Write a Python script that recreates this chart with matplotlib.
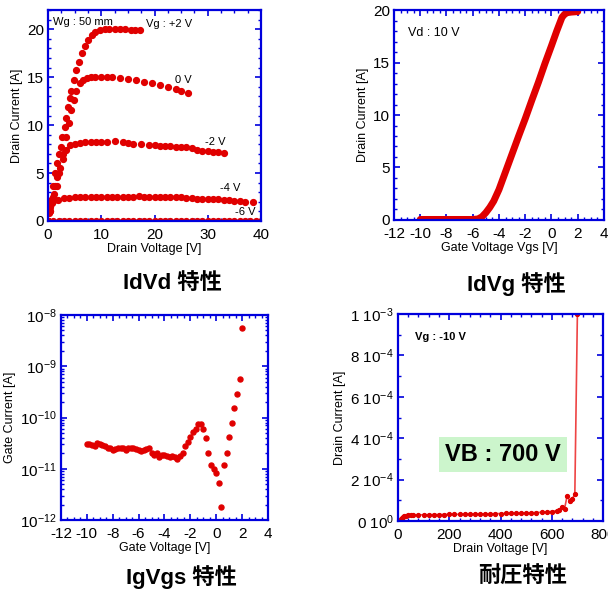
import numpy as np
import matplotlib
matplotlib.use("Agg")
import matplotlib.pyplot as plt
from matplotlib.ticker import MultipleLocator, FixedLocator, FixedFormatter, LogLocator, NullFormatter

plt.rcParams['font.family'] = ['Liberation Sans', 'Noto Sans CJK JP']
plt.rcParams['mathtext.fontset'] = 'custom'
plt.rcParams['mathtext.rm'] = 'Liberation Sans'
plt.rcParams['mathtext.it'] = 'Liberation Sans:italic'
plt.rcParams['mathtext.bf'] = 'Liberation Sans:bold'
plt.rcParams['axes.unicode_minus'] = False

RED = '#e00000'
BLUE = '#0000dd'

# ---- IdVd data (Vd [V], Id [A]) per gate voltage
vd_p2 = [0, 0.3, 0.63, 0.94, 1.25, 1.7, 2.1, 2.4, 2.7, 3.1, 3.4, 3.8, 4.1, 4.4, 4.8, 5.3,
         5.8, 6.4, 6.9, 7.5, 8.2, 8.8, 9.7, 10.7, 11.5, 12.5, 13.5, 14.5, 15.5, 16.3, 17.2]
id_p2 = [0, 1.0, 2.2, 3.6, 5.0, 6.0, 7.0, 7.7, 8.8, 9.8, 10.7, 11.9, 12.8, 13.6, 14.7, 15.7,
         16.6, 17.5, 18.2, 18.9, 19.4, 19.7, 19.9, 20.0, 20.0, 20.0, 20.0, 20.0, 19.95, 19.95, 19.9]

vd_0 = [0, 0.4, 0.8, 1.2, 1.6, 2.1, 2.8, 3.4, 3.9, 4.4, 4.8, 5.3, 6.0, 6.6, 7.3, 8.0, 8.8,
        10, 11, 12, 13.5, 15, 16.5, 18, 19.5, 21, 22.5, 24, 25, 26.3]
id_0 = [0, 1.0, 1.9, 2.8, 3.6, 5.0, 7.0, 8.8, 10.2, 11.6, 12.6, 13.6, 14.4, 14.7, 14.9, 15.0, 15.05,
        15.0, 15.0, 15.0, 14.9, 14.8, 14.7, 14.5, 14.4, 14.2, 14.0, 13.8, 13.6, 13.3]

vd_m2 = [0, 0.3, 0.9, 1.25, 1.7, 2.2, 2.8, 3.4, 4.1, 5, 6, 7, 8, 9, 10, 11, 12.5, 14, 15, 16,
         17.5, 19, 20, 21, 22, 23, 24, 25, 26, 27, 28, 29, 30, 31, 32, 33]
id_m2 = [0, 1.5, 2.5, 3.6, 4.6, 5.5, 6.5, 7.4, 7.9, 8.0, 8.15, 8.2, 8.25, 8.25, 8.25, 8.2, 8.3, 8.2,
         8.1, 8.05, 8.05, 7.95, 7.9, 7.85, 7.85, 7.8, 7.75, 7.7, 7.7, 7.6, 7.45, 7.3, 7.25, 7.2, 7.15, 7.1]

vd_m4 = [0, 0.2, 0.45, 0.9, 1.9, 3, 4, 5, 6, 7, 8, 9, 10, 11, 12, 13, 14, 15, 16, 17, 18, 19,
         20, 21, 22, 23, 24, 25, 26, 27, 28, 29, 30, 31, 32, 33, 34, 35, 36, 37, 38.5]
id_m4 = [0, 0.8, 1.8, 2.1, 2.2, 2.35, 2.4, 2.45, 2.5, 2.5, 2.5, 2.5, 2.5, 2.5, 2.55, 2.55, 2.55,
         2.55, 2.55, 2.6, 2.55, 2.5, 2.5, 2.5, 2.45, 2.45, 2.45, 2.45, 2.4, 2.35, 2.3, 2.3, 2.3,
         2.25, 2.25, 2.2, 2.15, 2.1, 2.05, 2.0, 1.95]

vd_m6 = [0, 1, 2, 3, 4, 5, 6, 7, 8, 9, 10, 11, 12, 13, 14, 15, 16, 17, 18, 19, 20,
         21, 22, 23, 24, 25, 26, 27, 28, 29, 30, 31, 32, 33, 34, 35, 36, 37, 38, 39, 40]
id_m6 = [0.02, 0.05, 0.05, 0.05, 0.05, 0.05, 0.05, 0.05, 0.05, 0.05, 0.05, 0.05, 0.05, 0.05,
         0.05, 0.05, 0.05, 0.05, 0.05, 0.05, 0.05, 0.05, 0.05, 0.05, 0.05, 0.05, 0.05, 0.05,
         0.05, 0.05, 0.05, 0.05, 0.05, 0.05, 0.05, 0.05, 0.05, 0.05, 0.05, 0.05, 0.05]

idvd_curves = [(vd_p2, id_p2), (vd_0, id_0), (vd_m2, id_m2), (vd_m4, id_m4), (vd_m6, id_m6)]
idvd_labels = ['Vg : +2 V', '0 V', '-2 V', '-4 V', '-6 V']
idvd_label_pos = [(18.4, 20.5), (23.9, 14.7), (29.5, 8.2), (32.3, 3.4), (35.1, 0.9)]

# ---- IdVg data
vgs = [-10, -9, -8, -7, -6, -5.6, -5.3, -5.0, -4.7, -4.4, -4.0, -3.5, -3.0, -2.5, -2.0,
       -1.5, -1.0, -0.5, 0, 0.4, 0.8, 1.0, 1.2, 1.5, 2.0]
id_vg = [0.05, 0.05, 0.05, 0.05, 0.05, 0.1, 0.3, 0.7, 1.2, 1.8, 2.9, 4.6, 6.3, 8.0, 9.65,
         11.4, 13.1, 14.9, 16.6, 18.0, 19.3, 19.6, 19.75, 19.8, 19.85]

# ---- IgVgs data
vg_ig = [-10, -9.8, -9.6, -9.4, -9.2, -9.0, -8.8, -8.6, -8.4, -8.2, -8.0, -7.8, -7.6, -7.4,
         -7.2, -7.0, -6.8, -6.6, -6.4, -6.2, -6.0, -5.8, -5.6, -5.4, -5.2, -5.0, -4.8, -4.6,
         -4.4, -4.2, -4.0, -3.8, -3.6, -3.4, -3.2, -3.0, -2.8, -2.6, -2.4, -2.2, -2.0, -1.8,
         -1.6, -1.4, -1.2, -1.0, -0.8, -0.6, -0.4, -0.2, 0, 0.2, 0.4, 0.6, 0.8, 1.0, 1.2,
         1.4, 1.6, 1.8, 2.0]
ig = [3.1e-11, 3.1e-11, 2.9e-11, 2.8e-11, 3.2e-11, 3.1e-11, 2.9e-11, 2.8e-11, 2.6e-11,
      2.5e-11, 2.35e-11, 2.4e-11, 2.5e-11, 2.6e-11, 2.6e-11, 2.3e-11, 2.6e-11, 2.55e-11,
      2.5e-11, 2.4e-11, 2.3e-11, 2.25e-11, 2.3e-11, 2.4e-11, 2.5e-11, 2.0e-11, 1.9e-11,
      2.0e-11, 1.7e-11, 1.85e-11, 1.85e-11, 1.75e-11, 1.7e-11, 1.75e-11, 1.7e-11, 1.55e-11,
      1.75e-11, 2.0e-11, 2.8e-11, 3.4e-11, 4.2e-11, 5.2e-11, 6.0e-11, 7.4e-11, 7.5e-11,
      6.1e-11, 4.0e-11, 2.0e-11, 1.2e-11, 1.0e-11, 8.1e-12, 5.2e-12, 1.8e-12, 1.17e-11,
      2.05e-11, 4.2e-11, 7.9e-11, 1.56e-10, 2.9e-10, 5.7e-10, 5.5e-9]

# ---- breakdown data
vd_bv = [0, 5, 10, 15, 20, 25, 30, 40, 50, 60, 80, 100, 120, 140, 160, 180, 200, 220, 240,
         260, 280, 300, 320, 340, 360, 380, 400, 420, 440, 460, 480, 500, 520, 540, 560, 580,
         600, 620, 630, 640, 650, 660, 670, 680, 690, 700]
id_bv = [0, 0.2e-5, 0.8e-5, 1.3e-5, 1.8e-5, 2.2e-5, 2.5e-5, 2.7e-5, 2.8e-5, 2.9e-5, 3.0e-5,
         3.0e-5, 3.05e-5, 3.1e-5, 3.1e-5, 3.15e-5, 3.2e-5, 3.2e-5, 3.25e-5, 3.3e-5, 3.3e-5,
         3.35e-5, 3.4e-5, 3.45e-5, 3.5e-5, 3.55e-5, 3.6e-5, 3.65e-5, 3.7e-5, 3.75e-5, 3.8e-5,
         3.9e-5, 4.0e-5, 4.1e-5, 4.2e-5, 4.4e-5, 4.6e-5, 5.0e-5, 5.4e-5, 7.0e-5, 6.0e-5,
         12.2e-5, 9.8e-5, 10.8e-5, 12.9e-5, 100e-5]
bv_yticks = [0, 2e-4, 4e-4, 6e-4, 8e-4, 1e-3]
bv_ylabels = [r'$0\ 10^{0}$', r'$2\ 10^{-4}$', r'$4\ 10^{-4}$', r'$6\ 10^{-4}$',
              r'$8\ 10^{-4}$', r'$1\ 10^{-3}$']


def style(ax):
    for s in ax.spines.values():
        s.set_color(BLUE)
        s.set_linewidth(1.6)
    ax.tick_params(which='both', direction='in', top=True, right=True, color=BLUE,
                   labelsize=11, pad=3)
    ax.tick_params(axis='x', which='both', pad=5)
    ax.tick_params(which='major', length=4, width=1.2)
    ax.tick_params(which='minor', length=2, width=1)


fig = plt.figure(figsize=(6.08, 5.89), dpi=100)

# IdVd
ax1 = fig.add_axes([0.079, 0.6248, 0.3503, 0.3582])
for x, y in idvd_curves:
    ax1.plot(x, y, 'o', color=RED, ms=4.2, mec=RED)
ax1.set_xlim(0, 40)
ax1.set_ylim(0, 22)
ax1.xaxis.set_major_locator(MultipleLocator(10))
ax1.xaxis.set_minor_locator(MultipleLocator(2.5))
ax1.yaxis.set_major_locator(MultipleLocator(5))
ax1.yaxis.set_minor_locator(MultipleLocator(1))
ax1.set_xlabel('Drain Voltage [V]', fontsize=9, labelpad=1)
ax1.set_ylabel('Drain Current [A]', fontsize=9, labelpad=3)
ax1.text(0.025, 0.965, 'Wg : 50 mm', transform=ax1.transAxes, fontsize=8, va='top')
for lab, (px, py) in zip(idvd_labels, idvd_label_pos):
    ax1.text(px, py, lab, fontsize=8, va='center')
style(ax1)

# IdVg
ax2 = fig.add_axes([0.648, 0.6265, 0.3454, 0.3565])
ax2.plot(vgs, id_vg, '-', color=RED, lw=5, solid_capstyle='round', solid_joinstyle='round')
ax2.set_xlim(-12, 4)
ax2.set_ylim(0, 20)
ax2.xaxis.set_major_locator(MultipleLocator(2))
ax2.xaxis.set_minor_locator(MultipleLocator(0.5))
ax2.yaxis.set_major_locator(MultipleLocator(5))
ax2.yaxis.set_minor_locator(MultipleLocator(1))
ax2.set_xlabel('Gate Voltage Vgs [V]', fontsize=9, labelpad=1)
ax2.set_ylabel('Drain Current [A]', fontsize=9, labelpad=3)
ax2.text(-10.9, 17.8, 'Vd : 10 V', fontsize=9, va='center')
style(ax2)

# IgVgs
ax3 = fig.add_axes([0.1003, 0.1171, 0.3405, 0.348])
ax3.semilogy(vg_ig, ig, 'o', color=RED, ms=3.6, mec=RED)
ax3.set_xlim(-12, 4)
ax3.set_ylim(1e-12, 1e-8)
ax3.xaxis.set_major_locator(MultipleLocator(2))
ax3.xaxis.set_minor_locator(MultipleLocator(0.5))
ax3.yaxis.set_major_locator(LogLocator(base=10, numticks=10))
ax3.yaxis.set_minor_locator(LogLocator(base=10, subs=np.arange(2, 10), numticks=20))
ax3.yaxis.set_minor_formatter(NullFormatter())
ax3.set_xlabel('Gate Voltage [V]', fontsize=9, labelpad=1)
ax3.set_ylabel('Gate Current [A]', fontsize=9, labelpad=3)
style(ax3)

# breakdown
ax4 = fig.add_axes([0.6546, 0.1154, 0.3372, 0.3514])
ax4.plot(vd_bv, id_bv, '-', color='#ee4444', lw=1.2)
ax4.plot(vd_bv, id_bv, 'o', color=RED, ms=2.8, mec=RED)
ax4.set_xlim(0, 800)
ax4.set_ylim(0, 1e-3)
ax4.xaxis.set_major_locator(MultipleLocator(200))
ax4.xaxis.set_minor_locator(MultipleLocator(40))
ax4.yaxis.set_major_locator(FixedLocator(bv_yticks))
ax4.yaxis.set_major_formatter(FixedFormatter(bv_ylabels))
ax4.yaxis.set_minor_locator(MultipleLocator(1e-4))
ax4.set_xlabel('Drain Voltage [V]', fontsize=9, labelpad=1)
ax4.set_ylabel('Drain Current [A]', fontsize=9, labelpad=3)
ax4.text(66, 0.89e-3, 'Vg : -10 V', fontsize=8, fontweight='bold', va='center')
ax4.text(410, 0.32e-3, 'VB : 700 V', fontsize=17, fontweight='bold', ha='center', va='center',
         bbox=dict(boxstyle='square,pad=0.25', fc='#ccf5cc', ec='none'))
style(ax4)

# panel titles
for s, (fx, fy) in zip(['IdVd 特性', 'IdVg 特性', 'IgVgs 特性', '耐圧特性'],
                       [(0.283, 0.518), (0.850, 0.518), (0.298, 0.020), (0.859, 0.020)]):
    fig.text(fx, fy, s, fontsize=16, fontweight='bold', ha='center', va='center')

fig.savefig('out.png', dpi=100)
